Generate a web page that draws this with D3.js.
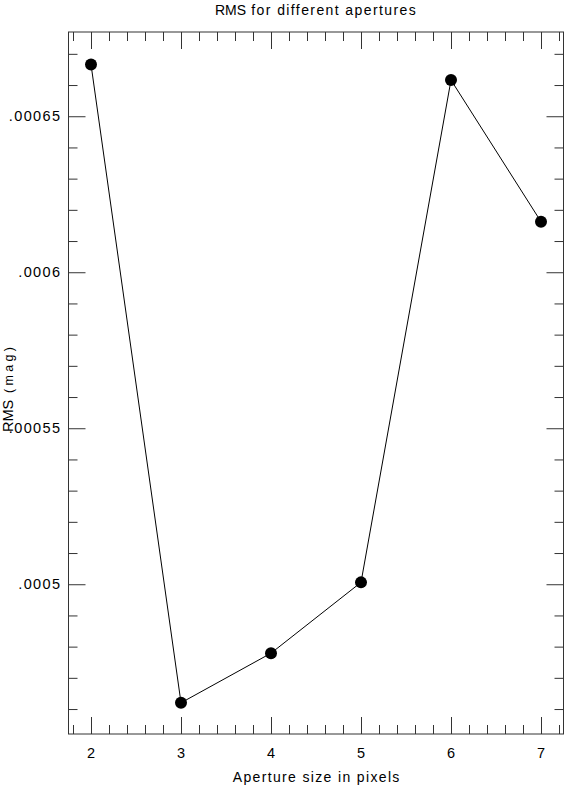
<!DOCTYPE html>
<html>
<head>
<meta charset="utf-8">
<script src="https://cdn.jsdelivr.net/npm/d3@7"></script>
<style>
  body { margin: 0; background: #fff; }
  text { font-family: "Liberation Sans", Arial, sans-serif; fill: #000; }
</style>
</head>
<body>
<div id="chart"></div>
<script>
var apertures = [2, 3, 4, 5, 6, 7]
var rms = [0.0006666, 0.000462, 0.0004779, 0.0005006, 0.0006616, 0.0006162]
var xTicks = [2, 3, 4, 5, 6, 7]
var yTicks = [0.0005, 0.00055, 0.0006, 0.00065]
var yTickLabels = ['.0005', '.00055', '.0006', '.00065']

var W = 565, H = 787
var margin = { top: 32, right: 1.5, bottom: 53, left: 68.5 }
var width = W - margin.left - margin.right
var height = H - margin.top - margin.bottom

var svg = d3.select('#chart').append('svg')
    .attr('width', W)
    .attr('height', H)

var g = svg.append('g')
    .attr('transform', 'translate(' + margin.left + ',' + margin.top + ')')

var x = d3.scaleLinear().domain([1.75, 7.25]).range([0, width])
var y = d3.scaleLinear().domain([0.000452, 0.000677]).range([height, 0])

// minor ticks: every 0.2 on x, every .00001 on y
var xMinor = d3.range(1.8, 7.25, 0.2).filter(function(v) { return Math.abs(v - Math.round(v)) > 1e-6 })
var yMinor = d3.range(0.00046, 0.000677, 0.00001).filter(function(v) {
    return !yTicks.some(function(t) { return Math.abs(t - v) < 1e-9 })
})

var tickColor = '#333'

function drawTicks(axis, vals, len) {
    axis.tickValues(vals).tickSize(len).tickFormat('')
    return axis
}

// ticks point inward on all four sides
g.append('g').attr('transform', 'translate(0,' + height + ')')
    .call(drawTicks(d3.axisTop(x), xTicks, 17))
g.append('g').attr('transform', 'translate(0,' + height + ')')
    .call(drawTicks(d3.axisTop(x), xMinor, 9))
g.append('g').call(drawTicks(d3.axisBottom(x), xTicks, 17))
g.append('g').call(drawTicks(d3.axisBottom(x), xMinor, 9))
g.append('g').call(drawTicks(d3.axisRight(y), yTicks, 17))
g.append('g').call(drawTicks(d3.axisRight(y), yMinor, 9))
g.append('g').attr('transform', 'translate(' + width + ',0)')
    .call(drawTicks(d3.axisLeft(y), yTicks, 17))
g.append('g').attr('transform', 'translate(' + width + ',0)')
    .call(drawTicks(d3.axisLeft(y), yMinor, 9))

g.selectAll('.domain').remove()
g.selectAll('.tick line').attr('stroke', tickColor)

// frame
g.append('rect')
    .attr('width', width)
    .attr('height', height)
    .attr('fill', 'none')
    .attr('stroke', tickColor)
    .attr('stroke-width', 1)

// tick labels (the original font is spaced out, hence letter-spacing)
g.selectAll('.xlab').data(xTicks).enter().append('text')
    .attr('class', 'xlab')
    .attr('x', function(d) { return x(d) + 0.7 })
    .attr('y', height + 24)
    .attr('text-anchor', 'middle')
    .style('font-size', '14.5px')
    .style('letter-spacing', '1.4px')
    .text(function(d) { return d })

g.selectAll('.ylab').data(yTicks).enter().append('text')
    .attr('class', 'ylab')
    .attr('x', -7)
    .attr('y', function(d) { return y(d) })
    .attr('dy', '0.36em')
    .attr('text-anchor', 'end')
    .style('font-size', '14.5px')
    .style('letter-spacing', '1.4px')
    .text(function(d, i) { return yTickLabels[i] })

// title
var title = svg.append('text')
    .attr('x', margin.left + width / 2)
    .attr('y', 15)
    .attr('text-anchor', 'middle')
title.append('tspan').style('font-size', '14px').text('RMS')
title.append('tspan').style('font-size', '14px').style('letter-spacing', '1.4px')
    .text(' for different apertures')

// axis titles
svg.append('text')
    .attr('x', margin.left + width / 2 + 0.7)
    .attr('y', 782)
    .attr('text-anchor', 'middle')
    .style('font-size', '14px')
    .style('letter-spacing', '1.35px')
    .text('Aperture size in pixels')

var ylab = svg.append('text')
    .attr('transform', 'translate(13,432) rotate(-90)')
    .attr('text-anchor', 'start')
ylab.append('tspan').style('font-size', '14.5px').text('RMS')
ylab.append('tspan').style('font-size', '12.5px').style('letter-spacing', '3.3px').text(' (mag)')

// line + markers
var line = d3.line()
    .x(function(d, i) { return x(apertures[i]) })
    .y(function(d) { return y(d) })

g.append('path')
    .datum(rms)
    .attr('fill', 'none')
    .attr('stroke', '#000')
    .attr('stroke-width', 1)
    .attr('d', line)

g.selectAll('.pt').data(rms).enter().append('circle')
    .attr('class', 'pt')
    .attr('cx', function(d, i) { return x(apertures[i]) })
    .attr('cy', function(d) { return y(d) })
    .attr('r', 6)
    .attr('fill', '#000')
</script>
</body>
</html>
